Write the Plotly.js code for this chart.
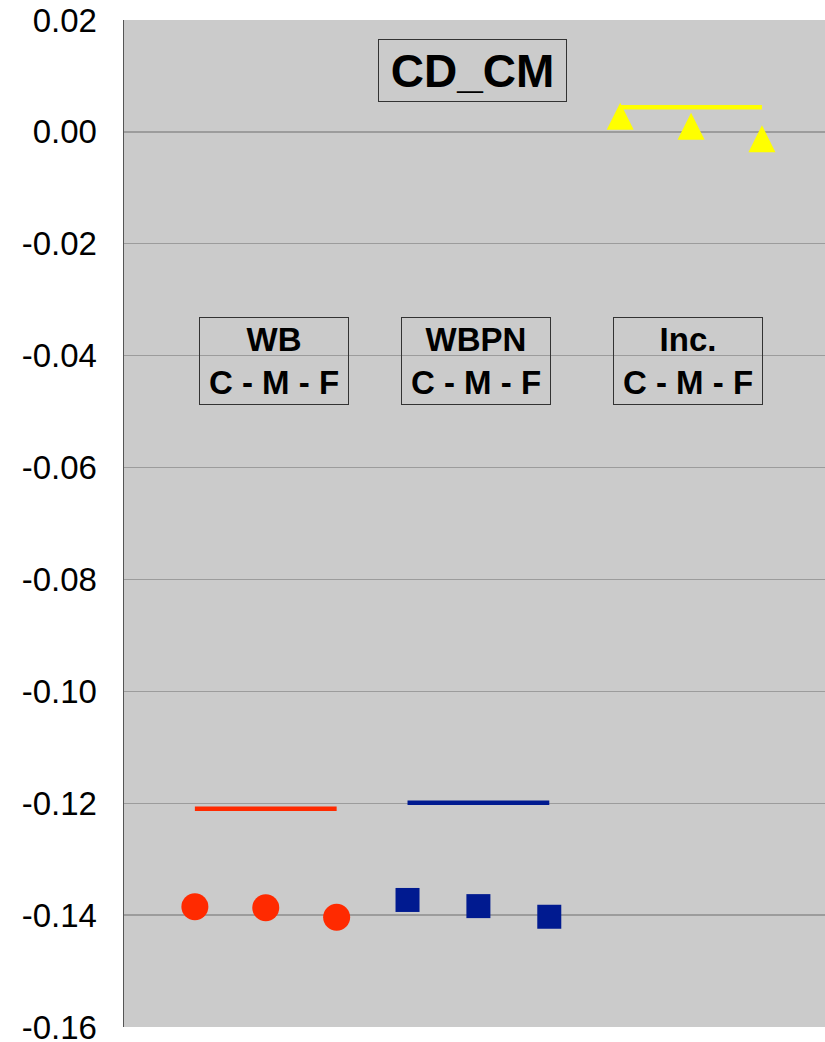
<!DOCTYPE html>
<html>
<head>
<meta charset="utf-8">
<script src="https://cdn.plot.ly/plotly-3.0.1.min.js"></script>
<style>html,body{margin:0;padding:0;background:#fff;overflow:hidden}</style>
</head>
<body>
<div id="chart" style="width:825px;height:1042px"></div>
<script>
// Positions of the nine points (C, M, F for each group)
var xWB = [1, 2, 3];
var xWBPN = [4, 5, 6];
var xInc = [7, 8, 9];

// Point values
var wbValues = [-0.1385, -0.1387, -0.1404];
var wbpnValues = [-0.1373, -0.1384, -0.1403];
var incValues = [0.0028, 0.0010, -0.0012];

// Reference (line) values
var wbLine = [-0.1210, -0.1210, -0.1210];
var wbpnLine = [-0.1199, -0.1199, -0.1199];
var incLine = [0.0044, 0.0044, 0.0044];

// Tick labels
var yTickVals = [0.02, 0.00, -0.02, -0.04, -0.06, -0.08, -0.10, -0.12, -0.14, -0.16];
var yTickText = ["0.02", "0.00", "-0.02", "-0.04", "-0.06", "-0.08", "-0.10", "-0.12", "-0.14", "-0.16"];

// Group labels
var chartTitle = "CD_CM";
var groupLabels = ["WB<br>C - M - F", "WBPN<br>C - M - F", "Inc.<br>C - M - F"];

var red = "#ff2a00", blue = "#001a90", yellow = "#ffff00";
var FONT = "Liberation Sans, Arial, sans-serif";

// pixel scale helpers (for the overlay axis holding the arrow-shaped triangles)
var yRange = [-0.16001, 0.02001];
var plotH = 1042 - 20 - 15;
var shift = 13.5 * (yRange[1] - yRange[0]) / plotH;

var traces = [
  {x: xWB, y: wbLine, mode: "lines", line: {color: red, width: 4.5}, hoverinfo: "skip"},
  {x: xWBPN, y: wbpnLine, mode: "lines", line: {color: blue, width: 4.5}, hoverinfo: "skip"},
  {x: xInc, y: incLine, mode: "lines", line: {color: yellow, width: 4.5}, hoverinfo: "skip"},
  {x: xWB, y: wbValues, mode: "markers", marker: {symbol: "circle", size: 27, color: red}},
  {x: xWBPN, y: wbpnValues, mode: "markers", marker: {symbol: "square", size: 24, color: blue}},
  {x: xInc, y: incValues, yaxis: "y2", mode: "markers",
   marker: {symbol: "arrow-up", size: 27, color: yellow, line: {width: 0}}}
];

function boxAnn(text, x) {
  return {
    text: "<b>" + text + "</b>", xref: "paper", yref: "paper", x: x, y: 0.6615,
    xanchor: "center", yanchor: "middle", showarrow: false,
    width: 148, height: 86, borderpad: 0, borderwidth: 1, bordercolor: "#333",
    font: {family: FONT, size: 33, color: "#000"}
  };
}

var layout = {
  width: 825, height: 1042,
  margin: {l: 124, r: 0, t: 20, b: 15},
  paper_bgcolor: "#ffffff",
  plot_bgcolor: "#cbcbcb",
  showlegend: false,
  xaxis: {range: [0, 9.89], showgrid: false, zeroline: false, showticklabels: false,
          ticks: "", showline: false, fixedrange: true},
  yaxis: {range: yRange, tickvals: yTickVals, ticktext: yTickText,
          showgrid: true, gridcolor: "#9c9c9c", gridwidth: 1.2, zeroline: false,
          showline: true, linecolor: "#555", linewidth: 1.5, ticks: "",
          ticklabelstandoff: 19, ticklabeloverflow: "allow",
          tickfont: {family: FONT, size: 33, color: "#000"}},
  yaxis2: {overlaying: "y", range: [yRange[0] - shift, yRange[1] - shift],
           showgrid: false, zeroline: false, showticklabels: false, showline: false, ticks: ""},
  annotations: [
    {text: "<b>" + chartTitle + "</b>", xref: "paper", yref: "paper", x: 0.497, y: 0.9503,
     xanchor: "center", yanchor: "middle", showarrow: false,
     width: 187, height: 61, borderpad: 0, borderwidth: 1, bordercolor: "#333",
     font: {family: FONT, size: 46, color: "#000"}},
    boxAnn(groupLabels[0], 0.2144),
    boxAnn(groupLabels[1], 0.5021),
    boxAnn(groupLabels[2], 0.805)
  ]
};

Plotly.newPlot("chart", traces, layout, {displayModeBar: false, staticPlot: true});
</script>
</body>
</html>
